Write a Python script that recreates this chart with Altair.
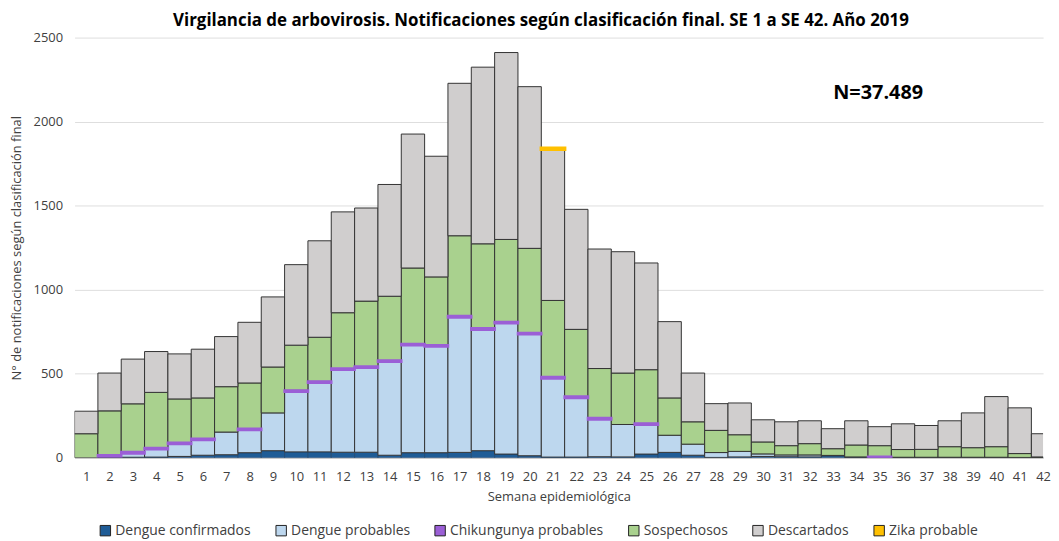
import altair as alt
import pandas as pd

weeks = list(range(1, 43))

dengue_confirmados = [0, 2, 3, 4, 8, 15, 18, 30, 42, 35, 35, 33, 33, 15, 30, 30, 32, 42, 22, 12,
                      4, 4, 6, 5, 22, 32, 15, 2, 5, 8, 6, 5, 12, 3, 3, 2, 2, 2, 2, 2, 1, 1]
dengue_probables = [0, 5, 23, 46, 74, 90, 135, 135, 225, 358, 411, 490, 502, 556, 639, 632, 803, 720, 778, 723,
                    468, 352, 222, 193, 174, 102, 66, 29, 33, 15, 11, 12, 2, 2, 0, 1, 1, 1, 1, 1, 1, 1]
chikungunya_probables = [0, 8, 8, 8, 8, 8, 0, 8, 0, 8, 8, 8, 8, 8, 8, 8, 8, 8, 8, 8,
                         8, 8, 8, 0, 8, 0, 0, 0, 0, 0, 0, 0, 0, 0, 3, 0, 0, 0, 0, 0, 0, 0]
sospechosos = [143, 264, 287, 331, 260, 243, 270, 272, 273, 269, 263, 332, 389, 382, 452, 406, 478, 503, 491, 503,
               456, 400, 295, 306, 320, 222, 133, 132, 99, 71, 55, 67, 40, 71, 66, 46, 47, 63, 57, 63, 23, 3]
descartados = [134, 225, 266, 243, 268, 290, 298, 361, 417, 479, 574, 600, 554, 665, 797, 718, 907, 1051, 1112, 962,
               900, 714, 711, 722, 635, 454, 290, 159, 189, 132, 142, 136, 119, 144, 113, 153, 142, 154, 207, 298, 272, 138]
zika_probable = [0] * 20 + [5] + [0] * 21

series_names = ["Dengue confirmados", "Dengue probables", "Chikungunya probables",
                "Sospechosos", "Descartados", "Zika probable"]
series_values = [dengue_confirmados, dengue_probables, chikungunya_probables,
                 sospechosos, descartados, zika_probable]
series_colors = ["#1f5c96", "#bdd7ee", "#9b5fd6", "#a9d18e", "#d0cece", "#ffc000"]
edge_colors = ["#264f78", "#333333", "#9b5fd6", "#333333", "#333333", "#ffc000"]
edge_widths = [1, 1, 2.5, 1, 1, 3.5]
y_ticks = [0, 500, 1000, 1500, 2000, 2500]

title_text = "Virgilancia de arbovirosis. Notificaciones según clasificación final. SE 1 a SE 42. Año 2019"
total_text = "N=37.489"

rows = []
for i, (name, vals) in enumerate(zip(series_names, series_values)):
    for w, v in zip(weeks, vals):
        rows.append({"semana": w, "serie": name, "valor": v, "orden": i,
                     "borde": edge_colors[i], "ancho": edge_widths[i],
                     "encima": 1 if name in ("Chikungunya probables", "Zika probable") else 0})
df = pd.DataFrame(rows)

FONT = "Open Sans"

base = (
    alt.Chart(df)
    .transform_filter("datum.valor > 0")
    .transform_stack(stack="valor", groupby=["semana"],
                     sort=[alt.SortField("orden", order="ascending")], as_=["y0", "y1"])
    .transform_calculate(xa="datum.semana - 0.5", xb="datum.semana + 0.5")
)

xaxis = alt.Axis(values=weeks, format="d", title="Semana  epidemiológica",
                 grid=False, ticks=False, domain=True, domainColor="#bfbfbf",
                 labelFont=FONT, labelFontSize=13, labelColor="#404040",
                 labelPadding=13, labelFlush=False, labelOverlap=False, labelBound=False,
                 titleFont=FONT, titleFontSize=13, titleFontWeight="normal",
                 titleColor="#404040", titlePadding=7)
yaxis = alt.Axis(values=y_ticks, format="d", title="N° de notificaciones según clasificación final",
                 grid=True, gridColor="#dedede", ticks=False, domain=False,
                 labelFont=FONT, labelFontSize=13, labelColor="#404040", labelPadding=12,
                 titleFont=FONT, titleFontSize=13, titleFontWeight="normal",
                 titleColor="#404040", titlePadding=10)

xscale = alt.Scale(domain=[0.5, 42.0], nice=False, zero=False)
yscale = alt.Scale(domain=[0, 2500], nice=False)
cscale = alt.Scale(domain=series_names, range=series_colors)

color = alt.Color("serie:N", scale=cscale, sort=series_names,
                  legend=alt.Legend(title=None, orient="none", direction="horizontal",
                                    legendX=24, legendY=489, columns=6,
                                    symbolType="square", symbolSize=110,
                                    symbolStrokeColor="#222222", symbolStrokeWidth=1,
                                    labelFont=FONT, labelFontSize=14, labelColor="#404040",
                                    labelLimit=0, columnPadding=22, labelOffset=3))

bars = base.mark_bar(clip=True).encode(
    x=alt.X("xa:Q", scale=xscale, axis=xaxis), x2="xb:Q",
    y=alt.Y("y0:Q", scale=yscale, axis=yaxis), y2="y1:Q",
    color=color,
    stroke=alt.Stroke("borde:N", scale=None),
    strokeWidth=alt.value(1),
)

overlay = base.transform_filter("datum.encima == 1").mark_bar(clip=True, strokeCap="round").encode(
    x=alt.X("xa:Q", scale=xscale, axis=xaxis), x2="xb:Q",
    y=alt.Y("y0:Q", scale=yscale, axis=yaxis), y2="y1:Q",
    color=color,
    stroke=alt.Stroke("borde:N", scale=None),
    strokeWidth=alt.StrokeWidth("ancho:Q", scale=None),
)

note = alt.Chart(pd.DataFrame({"t": [total_text]})).mark_text(
    font=FONT, fontSize=20, fontWeight="bold", color="#000000", align="center", baseline="middle"
).encode(x=alt.value(809), y=alt.value(56), text="t:N")

chart = (
    alt.layer(bars, overlay, note)
    .properties(width=975, height=423,
                title=alt.TitleParams(title_text, font=FONT, fontSize=17, fontWeight="bold",
                                      color="#000000", anchor="middle", offset=2, dx=-18),
                padding={"left": 2, "top": 2, "right": 0, "bottom": 0})
    .configure_view(stroke=None)
    .configure_axisX(labelOverlap=False)
)

chart.save("out.html", embed_options={"renderer": "svg", "actions": False})
